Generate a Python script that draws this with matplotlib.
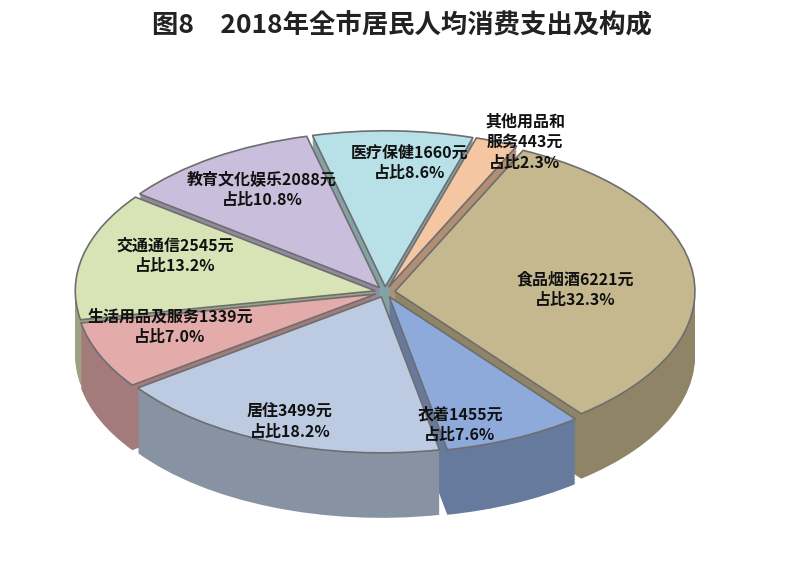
import numpy as np
import matplotlib
matplotlib.use("Agg")
import matplotlib.pyplot as plt
from matplotlib.patches import Wedge
from matplotlib.transforms import Affine2D
import matplotlib.colors as mc
from matplotlib import font_manager as fm

cjk = [f for f in fm.fontManager.ttflist if "CJK" in f.name]
names = sorted(set(f.name for f in cjk))
pick = next((n for n in names if "SC" in n), names[0] if names else "DejaVu Sans")
plt.rcParams["font.family"] = [pick, "DejaVu Sans"]

categories = ["其他用品和\n服务", "食品烟酒", "衣着", "居住", "生活用品及服务", "交通通信", "教育文化娱乐", "医疗保健"]
values = [443, 6221, 1455, 3499, 1339, 2545, 2088, 1660]
shares = ["2.3%", "32.3%", "7.6%", "18.2%", "7.0%", "13.2%", "10.8%", "8.6%"]
colors = ["#f4c6a2", "#c6b88e", "#8eaadb", "#bccbe2", "#e4abab", "#d8e3b6", "#c9bedb", "#b8e0e7"]
label_pos = [(525, 142), (575, 290), (460, 425), (290, 422), (170, 327), (175, 256), (262, 190), (410, 163)]

fig = plt.figure(figsize=(8.04, 5.70), dpi=100)
ax = fig.add_axes([0, 0, 1, 1])
ax.set_xlim(0, 804); ax.set_ylim(570, 0)
ax.axis("off")

cx, cy, R, ratio, depth, expl = 385, 292, 300, 0.52, 65, 10
start = 73.0
total = sum(values)
wedges = []
a = start
for v in values:
    span = v / total * 360
    wedges.append((a - span, a))
    a -= span

def tr(dx, dy):
    return Affine2D().scale(1, -ratio).translate(cx + dx, cy + dy) + ax.transData

def offs(t1, t2):
    m = np.deg2rad((t1 + t2) / 2)
    return expl * np.cos(m), -expl * np.sin(m) * ratio

for d in np.arange(depth, 0, -1.5):
    for (t1, t2), c in zip(wedges, colors):
        ox, oy = offs(t1, t2)
        dark = np.array(mc.to_rgb(c)) * 0.72
        ax.add_patch(Wedge((0, 0), R, t1, t2, facecolor=dark, edgecolor="none",
                           transform=tr(ox, oy + d)))
for (t1, t2), c in zip(wedges, colors):
    ox, oy = offs(t1, t2)
    ax.add_patch(Wedge((0, 0), R, t1, t2, facecolor=c, edgecolor="#6e6e6e",
                       linewidth=1.2, transform=tr(ox, oy)))

for cat, v, s, (x, y) in zip(categories, values, shares, label_pos):
    ax.text(x, y, f"{cat}{v}元\n占比{s}", ha="center", va="center",
            fontsize=11.5, linespacing=1.35, color="#111111", fontweight="bold")

fig.text(0.5, 0.955, "图8　2018年全市居民人均消费支出及构成", ha="center", va="center",
         fontsize=19, color="#222222", fontweight="bold")
fig.savefig("out.png", dpi=100)
